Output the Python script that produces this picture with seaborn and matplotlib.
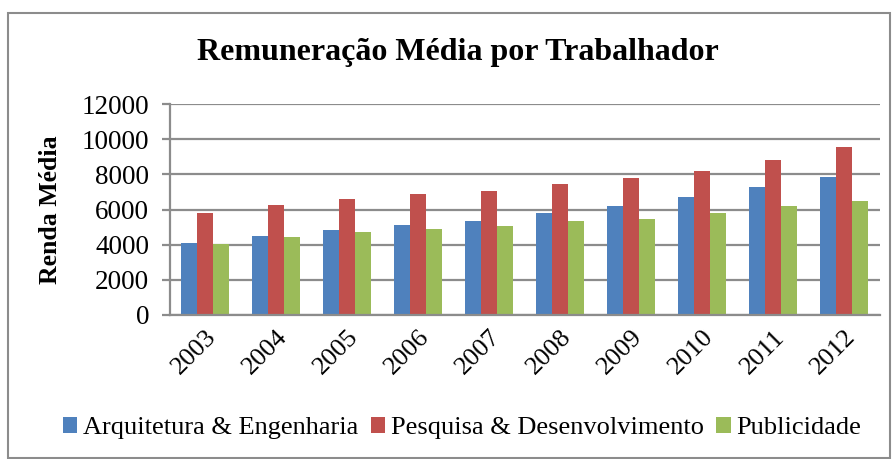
import matplotlib
matplotlib.use("Agg")
import matplotlib.pyplot as plt
import seaborn as sns
import pandas as pd
from matplotlib.patches import Rectangle

years = ["2003", "2004", "2005", "2006", "2007", "2008", "2009", "2010", "2011", "2012"]
arq_eng = [4080, 4490, 4810, 5100, 5365, 5780, 6220, 6710, 7260, 7830]
pesq_dev = [5780, 6240, 6600, 6860, 7050, 7470, 7790, 8190, 8800, 9590]
publicidade = [4040, 4440, 4700, 4910, 5060, 5350, 5460, 5800, 6200, 6480]
series_names = ["Arquitetura & Engenharia", "Pesquisa & Desenvolvimento", "Publicidade"]
colors = ["#4F81BD", "#C0504D", "#9BBB59"]

rows = []
for name, vals in zip(series_names, [arq_eng, pesq_dev, publicidade]):
    for y, v in zip(years, vals):
        rows.append({"Ano": y, "Serie": name, "Valor": v})
df = pd.DataFrame(rows)

sns.set_theme(style="white")
plt.rcParams['font.family'] = ['Liberation Serif', 'DejaVu Serif']
plt.rcParams['text.color'] = 'black'

fig = plt.figure(figsize=(8.94, 4.59), dpi=100)
ax = fig.add_axes([0.190, 0.314, 0.794, 0.459])

sns.barplot(data=df, x="Ano", y="Valor", hue="Serie", palette=colors,
            width=0.68, ax=ax, saturation=1, edgecolor="none", legend=True)

ax.set_ylim(0, 12000)
ax.set_yticks(range(0, 12001, 2000))
ax.set_xlim(-0.5, 9.5)
ax.yaxis.grid(True, color="#8c8c8c", linewidth=1.6)
ax.set_axisbelow(True)
for s in ["top", "right"]:
    ax.spines[s].set_visible(False)
ax.spines["left"].set_color("#8c8c8c")
ax.spines["left"].set_linewidth(1.6)
ax.spines["bottom"].set_color("#8c8c8c")
ax.spines["bottom"].set_linewidth(1.6)
ax.tick_params(axis="y", which="both", left=True, length=6, width=1.6, color="#8c8c8c",
               labelsize=19.5, pad=9, labelcolor="black")
ax.tick_params(axis="x", bottom=False, labelsize=19, labelcolor="black", pad=2)
for lbl in ax.get_xticklabels():
    lbl.set_rotation(45)
    lbl.set_ha("right")
    lbl.set_rotation_mode("anchor")
ax.set_xlabel("")
ax.set_ylabel("Renda Média", fontsize=18.5, fontweight="bold", labelpad=14, color="black")

fig.text(0.512, 0.885, "Remuneração Média por Trabalhador", ha="center", va="center",
         fontsize=23, fontweight="bold", color="black")

leg = ax.legend(loc="center", ncol=3, frameon=False, fontsize=19, handlelength=0.55,
                handleheight=0.55, handletextpad=0.23, columnspacing=0.45, labelcolor="black")
leg.set_bbox_to_anchor((0.517, 0.067), transform=fig.transFigure)

fig.patches.append(Rectangle((0.009, 0.002), 0.986, 0.97, transform=fig.transFigure,
                             fill=False, edgecolor="#8c8c8c", linewidth=1.5))

fig.savefig("out.png", dpi=100)
